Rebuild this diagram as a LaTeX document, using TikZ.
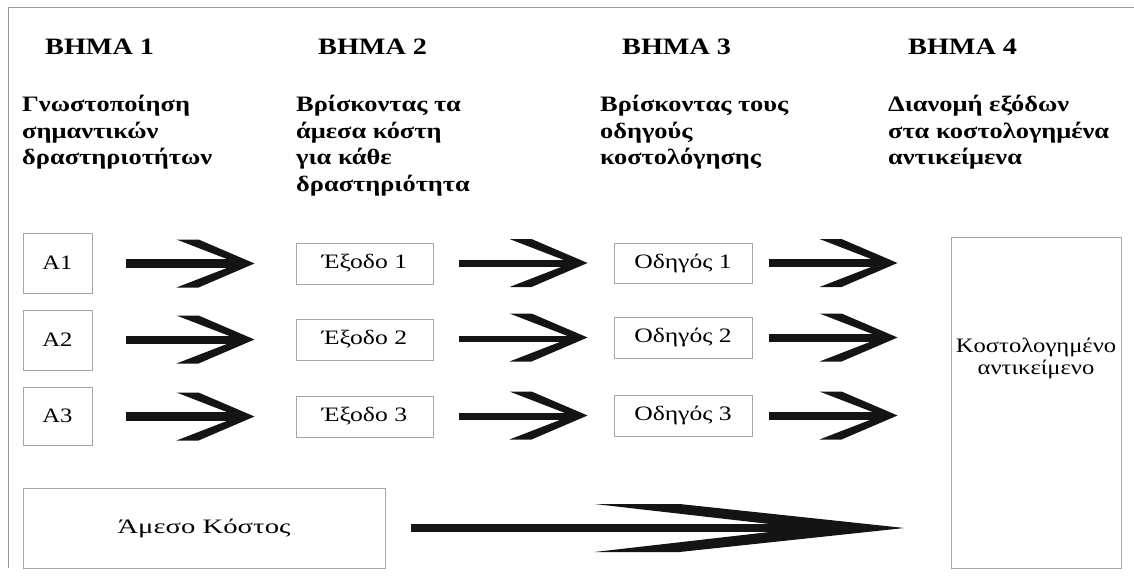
\documentclass[tikz,border=0pt]{standalone}
\usepackage{fontspec}
\setmainfont{Liberation Serif}
\newfontfamily\hdrfont[FakeStretch=1.2]{Liberation Serif}
\newfontfamily\descfont[FakeStretch=1.2]{Liberation Serif}
\newfontfamily\boxfont[FakeStretch=1.25]{Liberation Serif}
\newfontfamily\widefont[FakeStretch=1.4]{Liberation Serif}
\usetikzlibrary{calc}
\tikzset{
  box/.style={draw=black!35, line width=1pt, inner sep=0pt, align=center,
    font=\boxfont\fontsize{20.5}{22}\selectfont},
  plain/.style={inner sep=0pt, align=center, font=\boxfont\fontsize{20}{22}\selectfont},
  hdr/.style={anchor=base west, inner sep=0pt, font=\hdrfont\bfseries\fontsize{23.5}{26}\selectfont},
  desc/.style={anchor=north west, inner sep=0pt, align=left,
    font=\descfont\bfseries\fontsize{22}{26.5}\selectfont},
  framel/.style={draw=black!40, line width=1pt},
  arrowfill/.style={fill=black!92, draw=none},
}
% #1 start coordinate, #2 tip coordinate, #3 back of head, #4 end of flat, #5 inner vertex
\newcommand\fatarrow[5]{%
  \fill[arrowfill] ($(#1)+(0,-4)$) rectangle ($(#2)+(-#5+4,4)$);
  \fill[arrowfill] (#2) -- ($(#2)+(-#4,-24)$) -- ($(#2)+(-#3,-24)$) -- ($(#2)+(-#5,0)$)
     -- ($(#2)+(-#3,24)$) -- ($(#2)+(-#4,24)$) -- cycle;
}
\begin{document}
\begin{tikzpicture}[x=1pt,y=-1pt]
\useasboundingbox (0,0) rectangle (1134,580);
\draw[framel] (1134,8) -- (8,8) -- (8,568);

% headers
\node[hdr] (h1) at (45,55) {ΒΗΜΑ 1};
\node[hdr] (h2) at (318,55) {ΒΗΜΑ 2};
\node[hdr] (h3) at (622,55) {ΒΗΜΑ 3};
\node[hdr] (h4) at (908,55) {ΒΗΜΑ 4};

\node[desc] (d1) at (22,95) {Γνωστοποίηση\\σημαντικών\\δραστηριοτήτων};
\node[desc] (d2) at (296,95) {Βρίσκοντας τα\\άμεσα κόστη\\για κάθε\\δραστηριότητα};
\node[desc] (d3) at (600,95) {Βρίσκοντας τους\\οδηγούς\\κοστολόγησης};
\node[desc] (d4) at (888,95) {Διανομή εξόδων\\στα κοστολογημένα\\αντικείμενα};

% boxes
\node[box, minimum width=69, minimum height=60, font=\descfont\fontsize{20.5}{22}\selectfont] (a1) at (57.5,263) {Α1};
\node[box, minimum width=69, minimum height=60, font=\descfont\fontsize{20.5}{22}\selectfont] (a2) at (57.5,340) {Α2};
\node[box, minimum width=69, minimum height=58, font=\descfont\fontsize{20.5}{22}\selectfont] (a3) at (57.5,416) {Α3};

\node[box, minimum width=137, minimum height=41] (e1) at (364.5,263.5) {Έξοδο 1};
\node[box, minimum width=137, minimum height=41] (e2) at (364.5,339.5) {Έξοδο 2};
\node[box, minimum width=137, minimum height=41] (e3) at (364.5,416.5) {Έξοδο 3};

\node[box, minimum width=138, minimum height=40] (o1) at (683,263) {Οδηγός 1};
\node[box, minimum width=138, minimum height=41] (o2) at (683,337.5) {Οδηγός 2};
\node[box, minimum width=138, minimum height=41] (o3) at (683,415.5) {Οδηγός 3};

\node[box, minimum width=170, minimum height=331] (obj) at (1036,402.5) {};
\node[plain, font=\descfont\fontsize{20.5}{22}\selectfont] (objtxt) at (1036,358) {Κοστολογημένο\\αντικείμενο};

\node[box, minimum width=362, minimum height=80, font=\widefont\fontsize{20.5}{22}\selectfont] (dc) at (204,528) {Άμεσο Κόστος};

% arrow coordinates
\coordinate (s11) at ($(a1.east)+(33,0)$);  \coordinate (t11) at ($(e1.west)+(-41,0)$);
\coordinate (s12) at ($(a2.east)+(33,0)$);  \coordinate (t12) at ($(e2.west)+(-41,0)$);
\coordinate (s13) at ($(a3.east)+(33,0)$);  \coordinate (t13) at ($(e3.west)+(-41,0)$);
\coordinate (s21) at ($(e1.east)+(25,0)$);  \coordinate (t21) at ($(o1.west)+(-26,0)$);
\coordinate (s22) at ($(e2.east)+(25,0)$);  \coordinate (t22) at ($(o2.west)+(-26,0)$);
\coordinate (s23) at ($(e3.east)+(25,0)$);  \coordinate (t23) at ($(o3.west)+(-26,0)$);
\coordinate (s31) at ($(o1.east)+(16,0)$);  \coordinate (t31) at ($(obj.west|-o1.west)+(-53,0)$);
\coordinate (s32) at ($(o2.east)+(16,0)$);  \coordinate (t32) at ($(obj.west|-o2.west)+(-53,0)$);
\coordinate (s33) at ($(o3.east)+(16,0)$);  \coordinate (t33) at ($(obj.west|-o3.west)+(-53,0)$);
\coordinate (sb) at ($(dc.east)+(25,0)$);   \coordinate (tb) at ($(obj.west|-dc.east)+(-46,0)$);

\fatarrow{s11}{t11}{78}{56}{16}
\fatarrow{s12}{t12}{78}{56}{16}
\fatarrow{s13}{t13}{78}{56}{16}
\fatarrow{s21}{t21}{78}{56}{16}
\fatarrow{s22}{t22}{78}{56}{16}
\fatarrow{s23}{t23}{78}{56}{16}
\fatarrow{s31}{t31}{78}{56}{16}
\fatarrow{s32}{t32}{78}{56}{16}
\fatarrow{s33}{t33}{78}{56}{16}
\fatarrow{sb}{tb}{310}{225}{100}
\end{tikzpicture}
\end{document}
